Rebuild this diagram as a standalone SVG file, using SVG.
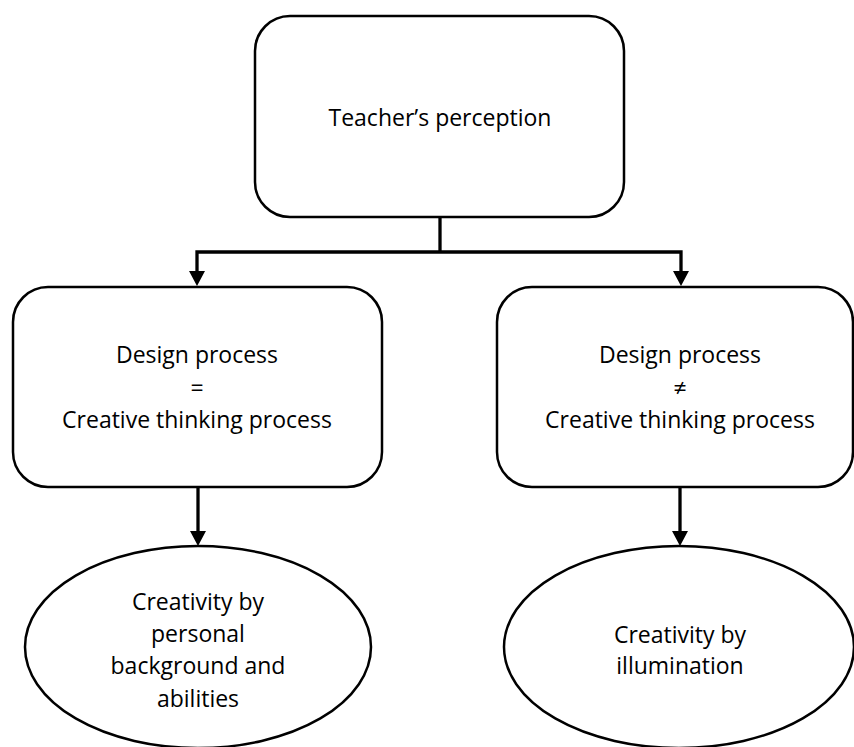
<svg xmlns="http://www.w3.org/2000/svg" width="854" height="747" viewBox="0 0 854 747">
<style>
.box{fill:#fff;stroke:#000;stroke-width:2.5}
.t{font-family:"Open Sans","Noto Sans","Liberation Sans",sans-serif;font-size:23px;fill:#000;text-anchor:middle}
.c{fill:none;stroke:#000;stroke-width:3.3}
</style>
<defs>
<marker id="ah" markerUnits="userSpaceOnUse" markerWidth="16" markerHeight="17" refX="9" refY="8" orient="auto" viewBox="0 0 16 16">
<path d="M0,0 L15,8 L0,16 z" fill="#000"/>
</marker>
</defs>
<rect width="854" height="747" fill="#fff"/>
<g id="connectors">
<path class="c" d="M440,217 V252"/>
<path class="c" d="M440,252 H197 V280" marker-end="url(#ah)"/>
<path class="c" d="M440,252 H681 V280" marker-end="url(#ah)"/>
<path class="c" d="M198,487 V540" marker-end="url(#ah)"/>
<path class="c" d="M680,487 V540" marker-end="url(#ah)"/>
</g>
<g id="teacher">
<rect class="box" x="255" y="16" width="369" height="201" rx="35"/>
<text class="t" x="440" y="126">Teacher’s perception</text>
</g>
<g id="equal">
<rect class="box" x="13" y="287" width="369" height="200" rx="35"/>
<text class="t" x="197" y="363">Design process</text>
<text class="t" x="197" y="396">=</text>
<text class="t" x="197" y="428">Creative thinking process</text>
</g>
<g id="notequal">
<rect class="box" x="497" y="287" width="356" height="200" rx="35"/>
<text class="t" x="680" y="363">Design process</text>
<text class="t" x="680" y="396">≠</text>
<text class="t" x="680" y="428">Creative thinking process</text>
</g>
<g id="personal">
<ellipse class="box" cx="198" cy="647" rx="173" ry="101"/>
<text class="t" x="198" y="610">Creativity by</text>
<text class="t" x="198" y="642">personal</text>
<text class="t" x="198" y="674">background and</text>
<text class="t" x="198" y="707">abilities</text>
</g>
<g id="illumination">
<ellipse class="box" cx="679" cy="647" rx="175" ry="101"/>
<text class="t" x="680" y="643">Creativity by</text>
<text class="t" x="680" y="674">illumination</text>
</g>
</svg>
